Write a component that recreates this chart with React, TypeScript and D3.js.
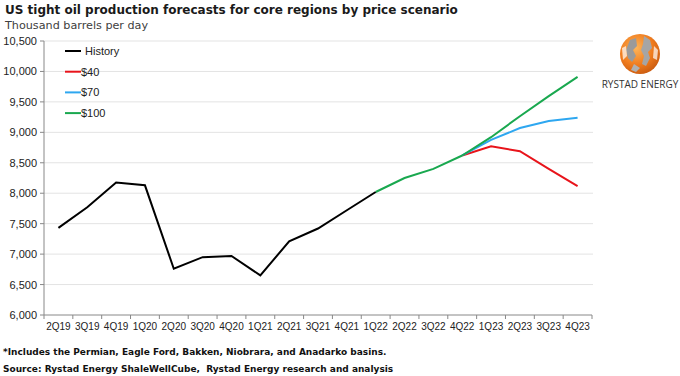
import React from "react";
import * as d3 from "d3";

const quarters = ["2Q19","3Q19","4Q19","1Q20","2Q20","3Q20","4Q20","1Q21","2Q21","3Q21","4Q21","1Q22","2Q22","3Q22","4Q22","1Q23","2Q23","3Q23","4Q23"];
const historyValues = [7430, 7770, 8175, 8130, 6760, 6950, 6970, 6650, 7210, 7420, 7720, 8020];
const sharedForecast = [8020, 8250, 8400, 8620];
const price40 = [8770, 8690, 8400, 8115];
const price70 = [8875, 9070, 9185, 9240];
const price100 = [8920, 9265, 9595, 9910];
const yTicks = [6000, 6500, 7000, 7500, 8000, 8500, 9000, 9500, 10000, 10500];
const seriesNames = ["History", "$40", "$70", "$100"];
const seriesColors = ["#000000", "#e8141b", "#2ea7f0", "#19a84f"];

const W = 680, H = 376;
const left = 44, right = 592, top = 41, bottom = 315;

export default function App() {
  const x = d3.scaleBand<string>().domain(quarters).range([left, right]).padding(0);
  const y = d3.scaleLinear().domain([6000, 10500]).range([bottom, top]);
  const cx = (q: string) => (x(q) as number) + x.bandwidth() / 2;
  const line = d3.line<[string, number]>().x(d => cx(d[0])).y(d => y(d[1]));

  const hist: [string, number][] = historyValues.map((v, i) => [quarters[i], v]);
  const sharedStart = 11;
  const shared = sharedForecast.map((v, i) => [quarters[sharedStart + i], v] as [string, number]);
  const mk = (arr: number[]) => [shared[shared.length - 1], ...arr.map((v, i) => [quarters[15 + i], v] as [string, number])];

  const fontAxis = "Liberation Sans, Arial, sans-serif";
  const fontV = "DejaVu Sans, Verdana, sans-serif";

  return (
    <svg width={W} height={H} style={{ position: "absolute", left: 0, top: 0, background: "#fff" }}>
      <defs>
        <radialGradient id="globe" cx="40%" cy="35%" r="70%">
          <stop offset="0%" stopColor="#fdb55a" />
          <stop offset="60%" stopColor="#f07c1e" />
          <stop offset="100%" stopColor="#c85a10" />
        </radialGradient>
      </defs>
      <text x={5} y={14} fontFamily={fontV} fontWeight="bold" fontSize={12} fill="#1a1a1a">US tight oil production forecasts for core regions by price scenario</text>
      <text x={5} y={29} fontFamily={fontV} fontSize={11.2} fill="#404040">Thousand barrels per day</text>

      {yTicks.map(t => (
        <g key={t}>
          {t > 6000 && <line x1={left} x2={right + 1} y1={y(t)} y2={y(t)} stroke="#e3e3e3" strokeWidth={1} />}
          <line x1={left - 4} x2={left} y1={y(t)} y2={y(t)} stroke="#888" />
          <text x={left - 7} y={y(t) + 4} textAnchor="end" fontFamily={fontAxis} fontSize={11} fill="#222">{d3.format(",")(t)}</text>
        </g>
      ))}
      <line x1={left} x2={left} y1={top} y2={bottom} stroke="#888" />
      <line x1={left} x2={right} y1={bottom} y2={bottom} stroke="#888" />
      {quarters.map((q) => (
        <line key={"t" + q} x1={x(q) as number} x2={x(q) as number} y1={bottom} y2={bottom + 4} stroke="#888" />
      ))}
      <line x1={right} x2={right} y1={bottom} y2={bottom + 4} stroke="#888" />
      {quarters.map(q => (
        <text key={q} x={cx(q)} y={bottom + 15} textAnchor="middle" fontFamily={fontAxis} fontSize={10} fill="#222">{q}</text>
      ))}

      <path d={line(mk(price40)) || ""} fill="none" stroke={seriesColors[1]} strokeWidth={2} />
      <path d={line(mk(price70)) || ""} fill="none" stroke={seriesColors[2]} strokeWidth={2} />
      <path d={line(mk(price100)) || ""} fill="none" stroke={seriesColors[3]} strokeWidth={2} />
      <path d={line(shared) || ""} fill="none" stroke={seriesColors[3]} strokeWidth={2} />
      <path d={line(hist) || ""} fill="none" stroke={seriesColors[0]} strokeWidth={2} />

      {seriesNames.map((n, i) => (
        <g key={n}>
          <line x1={65} x2={81} y1={51 + i * 20.7} y2={51 + i * 20.7} stroke={seriesColors[i]} strokeWidth={2} />
          <text x={i === 0 ? 85 : 81} y={55 + i * 20.7} fontFamily={fontAxis} fontSize={11} fill="#222">{n}</text>
        </g>
      ))}

      <g>
        <circle cx={640} cy={54} r={20} fill="url(#globe)" />
        <path d="M630,40 L636,38 L637,46 L633,50 L636,56 L632,62 L628,58 L626,50 Z" fill="#9a9a9a" />
        <path d="M644,36 L650,40 L652,48 L648,52 L650,58 L646,66 L642,64 L644,56 L641,50 L643,44 Z" fill="#a5a5a5" />
        <path d="M634,64 L640,68 L636,72 L631,70 Z" fill="#b0b0b0" />
        <path d="M622,48 L626,46 L627,56 L623,60 Z" fill="#fff" opacity={0.7} />
        <path d="M654,46 L658,50 L657,60 L653,58 Z" fill="#fff" opacity={0.7} />
        <text x={640} y={88} textAnchor="middle" fontFamily="Open Sans, Liberation Sans, sans-serif" fontSize={10} fill="#333">RYSTAD ENERGY</text>
      </g>

      <text x={3} y={355} fontFamily={fontV} fontWeight="bold" fontSize={9} fill="#111">*Includes the Permian, Eagle Ford, Bakken, Niobrara, and Anadarko basins.</text>
      <text x={3} y={372} fontFamily={fontV} fontWeight="bold" fontSize={9} fill="#111" style={{ whiteSpace: "pre" }}>Source: Rystad Energy ShaleWellCube,  Rystad Energy research and analysis</text>
    </svg>
  );
}
